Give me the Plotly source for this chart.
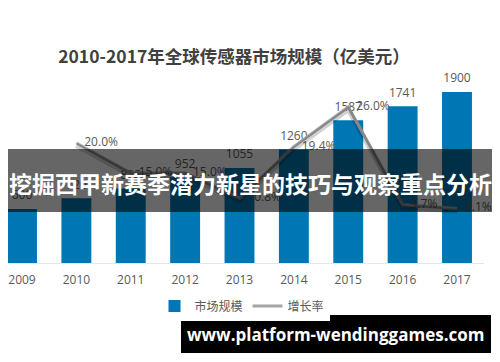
import plotly.graph_objects as go

years = ["2009", "2010", "2011", "2012", "2013", "2014", "2015", "2016", "2017"]
market_size = [600, 720, 828, 952, 1055, 1260, 1587, 1741, 1900]
growth_years = ["2010", "2011", "2012", "2013", "2014", "2015", "2016", "2017"]
growth_rate = [20.0, 15.0, 15.0, 10.8, 19.4, 26.0, 9.7, 9.1]

title_text = "2010-2017年全球传感器市场规模（亿美元）"
banner_text = "挖掘西甲新赛季潜力新星的技巧与观察重点分析"
watermark_text = "www.platform-wendinggames.com"

# the page body has an 8px margin, so the figure starts at screen (8, 8)
OFF = 8
W, H = 500 - OFF, 362 - OFF
L, R, T, B = 0, 16, 72, 99
pw, ph = W - L - R, H - T - B
base_screen = H - B + OFF  # screen y of the x-axis baseline (263)

def px_x(xs):
    return (xs - OFF - L) / pw

def px_y(ys):
    return (base_screen - ys) / ph

FONT = "Open Sans, Noto Sans CJK SC, sans-serif"
CJK = "Noto Sans CJK SC, sans-serif"
GREY = "#595959"

step = 54.375
x0_idx = -(22 - OFF - L) / step
x1_idx = x0_idx + pw / step

fig = go.Figure()
fig.add_trace(go.Bar(
    x=years, y=market_size, name="市场规模",
    marker=dict(color="#0077b5", line=dict(width=0)),
    width=0.55, yaxis="y",
))
# bar value labels
fig.add_trace(go.Scatter(
    x=years, y=market_size, mode="markers+text", yaxis="y",
    marker=dict(size=9, color="rgba(0,0,0,0)"),
    text=[str(v) for v in market_size], textposition="top center",
    textfont=dict(family=FONT, size=12, color=GREY),
    showlegend=False, hoverinfo="skip", cliponaxis=False,
))
# soft shadow of the growth line
fig.add_trace(go.Scatter(
    x=growth_years, y=growth_rate, mode="lines", yaxis="y3",
    line=dict(color="rgba(0,0,0,0.18)", width=5), showlegend=False,
    hoverinfo="skip", cliponaxis=False,
))
fig.add_trace(go.Scatter(
    x=growth_years, y=growth_rate, name="增长率", mode="lines+markers+text",
    yaxis="y2", line=dict(color="#a5a5a5", width=3),
    marker=dict(size=11, color="rgba(0,0,0,0)"),
    text=[f"{v:.1f}%" for v in growth_rate], textposition="middle right",
    textfont=dict(family=FONT, size=12, color=GREY), cliponaxis=False,
))

annotations = [
    dict(x=px_x(250), y=px_y(183), xref="paper", yref="paper", text=f"<b>{banner_text}</b>",
         showarrow=False, xanchor="center", yanchor="middle",
         font=dict(family=CJK, size=23, color="white")),
    dict(x=px_x(335), y=px_y(334), xref="paper", yref="paper", text=f"<b>{watermark_text}</b>",
         showarrow=False, xanchor="center", yanchor="middle",
         font=dict(family="Open Sans, sans-serif", size=17, color="white")),
]

shapes = [
    dict(type="rect", xref="paper", yref="paper",
         x0=px_x(8), x1=px_x(492), y0=px_y(212), y1=px_y(149),
         fillcolor="rgba(0,0,0,0.6)", line=dict(width=0), layer="above"),
    dict(type="rect", xref="paper", yref="paper",
         x0=px_x(181), x1=px_x(491), y0=px_y(353), y1=px_y(315),
         fillcolor="black", line=dict(width=0), layer="above"),
]

pct_per_px = 1 / 6.0
y2max = ph * pct_per_px

fig.update_layout(
    width=W, height=H,
    margin=dict(l=L, r=R, t=T, b=B, autoexpand=False),
    paper_bgcolor="white", plot_bgcolor="white",
    font=dict(family=FONT, size=12, color=GREY),
    title=dict(text=f"<b>{title_text}</b>", x=(234 - OFF) / W, xanchor="center",
               y=1 - (57 - OFF) / H, yanchor="middle", yref="container",
               font=dict(family=CJK, size=17.5, color="#404040")),
    xaxis=dict(type="category", range=[x0_idx, x1_idx], showgrid=False,
               showline=True, linecolor="#e6e6e6", linewidth=1,
               ticks="", ticklabelstandoff=6,
               tickfont=dict(family=FONT, size=12, color=GREY)),
    yaxis=dict(range=[0, ph / 0.09], visible=False, showgrid=False),
    yaxis2=dict(range=[0, y2max], overlaying="y", visible=False, showgrid=False),
    yaxis3=dict(range=[2.5 * pct_per_px, y2max + 2.5 * pct_per_px], overlaying="y",
                visible=False, showgrid=False),
    legend=dict(orientation="h", x=px_x(242), xanchor="center",
                y=px_y(306), yanchor="middle",
                font=dict(family=CJK, size=12, color=GREY),
                itemwidth=30, tracegroupgap=0),
    annotations=annotations,
    shapes=shapes,
    bargap=0.45,
)

fig.write_html("out.html")
